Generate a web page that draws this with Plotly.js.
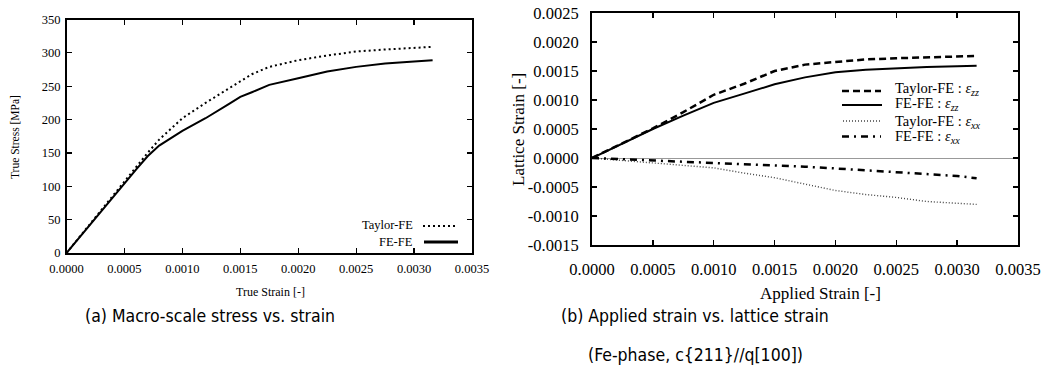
<!DOCTYPE html>
<html>
<head>
<meta charset="utf-8">
<script src="https://cdn.plot.ly/plotly-3.0.1.min.js"></script>
<style>
html,body{margin:0;padding:0;background:#fff;}
#chart{width:1051px;height:376px;}
</style>
</head>
<body>
<div id="chart"></div>
<script>
// ---- Data: (a) macro-scale stress vs strain ----
const trueStrain = [0, 0.0002, 0.0004, 0.0006, 0.0007, 0.0008, 0.0010, 0.0012, 0.0014, 0.0015, 0.0016, 0.00175, 0.0020, 0.00225, 0.0025, 0.00275, 0.0030, 0.00316];
const stressTaylorFE = [0, 43, 86, 128, 150, 170, 202, 225, 247, 258, 268, 279, 289, 296, 302, 305, 307, 309];
const stressFEFE     = [0, 42, 84, 125, 145, 161, 183, 202, 223, 234, 241, 252, 262, 272, 279, 284, 287, 289];

// ---- Data: (b) applied strain vs lattice strain ----
const appliedStrain = [0, 0.00025, 0.0005, 0.00075, 0.0010, 0.00125, 0.0015, 0.00175, 0.0020, 0.00225, 0.0025, 0.00275, 0.0030, 0.00316];
const taylorZZ = [0, 0.00025, 0.00051, 0.00079, 0.00109, 0.00128, 0.00150, 0.00161, 0.00166, 0.00170, 0.00172, 0.00174, 0.00175, 0.00176];
const fefeZZ   = [0, 0.00025, 0.00050, 0.00073, 0.00095, 0.00111, 0.00127, 0.00139, 0.00148, 0.00152, 0.00155, 0.00157, 0.00158, 0.00159];
const taylorXX = [0, -0.00004, -0.00009, -0.00013, -0.00017, -0.00026, -0.00034, -0.00045, -0.00056, -0.00063, -0.00068, -0.00075, -0.00078, -0.00080];
const fefeXX   = [0, -0.00002, -0.00005, -0.00007, -0.00009, -0.00011, -0.00013, -0.00015, -0.00018, -0.00021, -0.00024, -0.00028, -0.00031, -0.00035];

// ---- Tick labels ----
const xTickVals = [0, 0.0005, 0.0010, 0.0015, 0.0020, 0.0025, 0.0030, 0.0035];
const xTickText = ["0.0000", "0.0005", "0.0010", "0.0015", "0.0020", "0.0025", "0.0030", "0.0035"];
const stressTickVals = [0, 50, 100, 150, 200, 250, 300, 350];
const stressTickText = ["0", "50", "100", "150", "200", "250", "300", "350"];
const latticeTickVals = [-0.0015, -0.0010, -0.0005, 0, 0.0005, 0.0010, 0.0015, 0.0020, 0.0025];
const latticeTickText = ["-0.0015", "-0.0010", "-0.0005", "0.0000", "0.0005", "0.0010", "0.0015", "0.0020", "0.0025"];

// ---- Legend labels ----
const legendA = ["Taylor-FE", "FE-FE"];
const legendB = [
  "Taylor-FE : <i>ε</i><sub><i>zz</i></sub>",
  "FE-FE : <i>ε</i><sub><i>zz</i></sub>",
  "Taylor-FE : <i>ε</i><sub><i>xx</i></sub>",
  "FE-FE : <i>ε</i><sub><i>xx</i></sub>"
];

const W = 1051, H = 376;
const px = v => v / W;
const py = v => 1 - v / H;
const SERIF = "Liberation Serif";
const CAP = "DejaVu Sans Condensed, Liberation Sans Narrow, sans-serif";

const traces = [
  {x: trueStrain, y: stressTaylorFE, xaxis: 'x', yaxis: 'y', mode: 'lines', name: legendA[0],
   line: {color: '#000', width: 2, dash: '2px,3px'}},
  {x: trueStrain, y: stressFEFE, xaxis: 'x', yaxis: 'y', mode: 'lines', name: legendA[1],
   line: {color: '#000', width: 2}},
  {x: appliedStrain, y: taylorZZ, xaxis: 'x2', yaxis: 'y2', mode: 'lines', name: legendB[0],
   line: {color: '#000', width: 2.5, dash: '7px,4px'}},
  {x: appliedStrain, y: fefeZZ, xaxis: 'x2', yaxis: 'y2', mode: 'lines', name: legendB[1],
   line: {color: '#000', width: 2}},
  {x: appliedStrain, y: taylorXX, xaxis: 'x2', yaxis: 'y2', mode: 'lines', name: legendB[2],
   line: {color: '#444', width: 1.4, dash: '1px,2px'}},
  {x: appliedStrain, y: fefeXX, xaxis: 'x2', yaxis: 'y2', mode: 'lines', name: legendB[3],
   line: {color: '#000', width: 2.5, dash: '7px,5px,2px,5px'}}
];

const axBase = {
  showline: true, linecolor: '#000', mirror: 'ticks', ticks: 'inside', ticklen: 5,
  tickcolor: '#000', showgrid: false, zeroline: false, tickmode: 'array', fixedrange: true
};

const layout = {
  width: W, height: H,
  margin: {l: 0, r: 0, t: 0, b: 0},
  font: {family: SERIF, color: '#000'},
  paper_bgcolor: '#fff', plot_bgcolor: '#fff',
  showlegend: false,
  xaxis: Object.assign({}, axBase, {
    domain: [px(66.5), px(472)], range: [0, 0.0035], anchor: 'y',
    tickvals: xTickVals, ticktext: xTickText, linewidth: 1.5, tickwidth: 1.2,
    tickfont: {family: SERIF, size: 12.5, color: '#000'}, ticklabelstandoff: 3
  }),
  yaxis: Object.assign({}, axBase, {
    domain: [py(253), py(19.5)], range: [0, 350], anchor: 'x',
    tickvals: stressTickVals, ticktext: stressTickText, linewidth: 1.5, tickwidth: 1.2,
    tickfont: {family: SERIF, size: 12.5, color: '#000'}, ticklabelstandoff: 2
  }),
  xaxis2: Object.assign({}, axBase, {
    domain: [px(592), px(1018)], range: [0, 0.0035], anchor: 'y2',
    tickvals: xTickVals, ticktext: xTickText, linewidth: 2, tickwidth: 1.5,
    tickfont: {family: SERIF, size: 16.5, color: '#000'}, ticklabelstandoff: 8
  }),
  yaxis2: Object.assign({}, axBase, {
    domain: [py(245), py(13)], range: [-0.0015, 0.0025], anchor: 'x2',
    tickvals: latticeTickVals, ticktext: latticeTickText, linewidth: 2, tickwidth: 1.5,
    zeroline: true, zerolinecolor: '#999', zerolinewidth: 1,
    tickfont: {family: SERIF, size: 16.5, color: '#000'}, ticklabelstandoff: 8
  }),
  shapes: [
    // legend (a) samples
    {type: 'line', xref: 'paper', yref: 'paper', x0: px(423), x1: px(458), y0: py(226), y1: py(226),
     line: {color: '#000', width: 2, dash: '2px,3px'}},
    {type: 'line', xref: 'paper', yref: 'paper', x0: px(424), x1: px(458), y0: py(242), y1: py(242),
     line: {color: '#000', width: 3}},
    // legend (b) samples
    {type: 'line', xref: 'paper', yref: 'paper', x0: px(842), x1: px(881), y0: py(91), y1: py(91),
     line: {color: '#000', width: 2.5, dash: '7px,4px'}},
    {type: 'line', xref: 'paper', yref: 'paper', x0: px(842), x1: px(882), y0: py(105), y1: py(105),
     line: {color: '#000', width: 2}},
    {type: 'line', xref: 'paper', yref: 'paper', x0: px(843), x1: px(881), y0: py(121), y1: py(121),
     line: {color: '#444', width: 1.4, dash: '1px,2px'}},
    {type: 'line', xref: 'paper', yref: 'paper', x0: px(842), x1: px(881), y0: py(136.5), y1: py(136.5),
     line: {color: '#000', width: 2.5, dash: '7px,5px,2px,5px'}}
  ],
  annotations: [
    // axis titles (a)
    {text: 'True Stress [MPa]', xref: 'paper', yref: 'paper', x: px(15), y: py(137), textangle: -90,
     showarrow: false, xanchor: 'center', yanchor: 'middle', font: {family: SERIF, size: 11.5, color: '#000'}},
    {text: 'True Strain [-]', xref: 'paper', yref: 'paper', x: px(270), y: py(292),
     showarrow: false, xanchor: 'center', yanchor: 'middle', font: {family: SERIF, size: 12, color: '#000'}},
    // axis titles (b)
    {text: 'Lattice Strain [-]', xref: 'paper', yref: 'paper', x: px(518), y: py(130), textangle: -90,
     showarrow: false, xanchor: 'center', yanchor: 'middle', font: {family: SERIF, size: 17, color: '#000'}},
    {text: 'Applied Strain [-]', xref: 'paper', yref: 'paper', x: px(820), y: py(293),
     showarrow: false, xanchor: 'center', yanchor: 'middle', font: {family: SERIF, size: 17, color: '#000'}},
    // legend (a) text
    {text: legendA[0], xref: 'paper', yref: 'paper', x: px(415), y: py(225), showarrow: false,
     xanchor: 'right', yanchor: 'middle', font: {family: SERIF, size: 12.5, color: '#000'}},
    {text: legendA[1], xref: 'paper', yref: 'paper', x: px(415), y: py(242), showarrow: false,
     xanchor: 'right', yanchor: 'middle', font: {family: SERIF, size: 12.5, color: '#000'}},
    // legend (b) text
    {text: legendB[0], xref: 'paper', yref: 'paper', x: px(893), y: py(89.5), showarrow: false,
     xanchor: 'left', yanchor: 'middle', font: {family: SERIF, size: 14.5, color: '#000'}},
    {text: legendB[1], xref: 'paper', yref: 'paper', x: px(893), y: py(104), showarrow: false,
     xanchor: 'left', yanchor: 'middle', font: {family: SERIF, size: 14.5, color: '#000'}},
    {text: legendB[2], xref: 'paper', yref: 'paper', x: px(893), y: py(121.5), showarrow: false,
     xanchor: 'left', yanchor: 'middle', font: {family: SERIF, size: 14.5, color: '#000'}},
    {text: legendB[3], xref: 'paper', yref: 'paper', x: px(893), y: py(137), showarrow: false,
     xanchor: 'left', yanchor: 'middle', font: {family: SERIF, size: 14.5, color: '#000'}},
    // captions
    {text: '(a) Macro-scale stress vs. strain', xref: 'paper', yref: 'paper', x: px(210), y: py(316),
     showarrow: false, xanchor: 'center', yanchor: 'middle', font: {family: CAP, size: 17.5, color: '#000'}},
    {text: '(b) Applied strain vs. lattice strain', xref: 'paper', yref: 'paper', x: px(695), y: py(316),
     showarrow: false, xanchor: 'center', yanchor: 'middle', font: {family: CAP, size: 17.5, color: '#000'}},
    {text: '(Fe-phase, c{211}//q[100])', xref: 'paper', yref: 'paper', x: px(695), y: py(355),
     showarrow: false, xanchor: 'center', yanchor: 'middle', font: {family: CAP, size: 17.5, color: '#000'}}
  ]
};

Plotly.newPlot('chart', traces, layout, {staticPlot: true, displayModeBar: false});
</script>
</body>
</html>
